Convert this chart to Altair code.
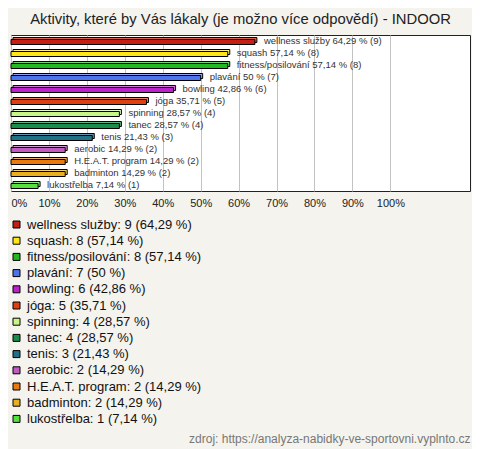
import altair as alt
import pandas as pd

categories = ["wellness služby", "squash", "fitness/posilování", "plavání", "bowling",
              "jóga", "spinning", "tanec", "tenis", "aerobic", "H.E.A.T. program",
              "badminton", "lukostřelba"]
counts = [9, 8, 8, 7, 6, 5, 4, 4, 3, 2, 2, 2, 1]
percents = [64.29, 57.14, 57.14, 50.0, 42.86, 35.71, 28.57, 28.57, 21.43, 14.29, 14.29, 14.29, 7.14]
pct_text = ["64,29", "57,14", "57,14", "50", "42,86", "35,71", "28,57", "28,57",
            "21,43", "14,29", "14,29", "14,29", "7,14"]
colors = ["#c41f12", "#ffe619", "#22b822", "#4d74ee", "#bb22cc", "#df4012", "#c8f587",
          "#1a8c4e", "#226f88", "#c05cc0", "#e87a10", "#e8b020", "#55e040"]
top_colors = ["#e0604f", "#fff07a", "#70d870", "#8ea6f4", "#d870e0", "#ee8060", "#e2fbc0",
              "#5cb884", "#5e9ab0", "#d896d8", "#f2ae64", "#f2d06a", "#96ee88"]
x_ticks = [0, 10, 20, 30, 40, 50, 60, 70, 80, 90, 100]

bar_labels = [f"{c} {p} % ({n})" for c, p, n in zip(categories, pct_text, counts)]
legend_labels = [f"{c}: {n} ({p} %)" for c, p, n in zip(categories, pct_text, counts)]

df = pd.DataFrame({
    "category": categories,
    "pct": percents,
    "bar_label": bar_labels,
    "legend_label": legend_labels,
    "top_label": legend_labels,
})

FONT = "Arial, Liberation Sans"

y = alt.Y("category:N", sort=categories, axis=None,
          scale=alt.Scale(paddingInner=0, paddingOuter=0))
x = alt.X("pct:Q",
          scale=alt.Scale(domain=[0, 121], nice=False, zero=True),
          axis=alt.Axis(values=x_ticks, labelExpr="datum.value + '%'", grid=True,
                        gridColor="#c3c3c3", gridWidth=1, domain=False, ticks=False,
                        labelPadding=6, labelFontSize=11, labelColor="#222",
                        labelFont=FONT, labelFlush=True,
                        title="zdroj: https://analyza-nabidky-ve-sportovni.vyplnto.cz",
                        titleX=459, titleY=247, titleAlign="right", titleBaseline="middle",
                        titleFontWeight="normal", titleFontSize=12, titleColor="#777",
                        titleFont=FONT))

back = alt.Chart(df).mark_bar(size=5, xOffset=2, x2Offset=2, yOffset=-1,
                              stroke="black", strokeWidth=1).encode(
    x=x, y=y,
    color=alt.Color("top_label:N", scale=alt.Scale(domain=legend_labels, range=top_colors),
                    legend=None),
)

front = alt.Chart(df).mark_bar(size=5, yOffset=1, stroke="black", strokeWidth=1).encode(
    x=x, y=y,
    color=alt.Color("legend_label:N", scale=alt.Scale(domain=legend_labels, range=colors),
                    legend=alt.Legend(orient="none", legendX=-1, legendY=183, title=None,
                                      symbolType="square", symbolSize=49,
                                      symbolStrokeColor="black", symbolStrokeWidth=1,
                                      symbolOpacity=1,
                                      labelFontSize=13, labelLimit=400, labelOffset=4,
                                      labelFont=FONT, labelColor="#111",
                                      rowPadding=2.2, padding=0)),
)

text = alt.Chart(df).mark_text(align="left", baseline="middle", dx=9, fontSize=9.5,
                               font=FONT, color="#333").encode(
    x=x, y=y, text="bar_label:N"
)

chart = alt.layer(back, front, text).resolve_scale(color="independent").properties(
    width=459, height=156,
    autosize=alt.AutoSizeParams(type="none"),
    padding={"left": 3, "top": 27, "right": 2, "bottom": 258},
    background="#f4f3ee",
    title=alt.Title("Aktivity, které by Vás lákaly (je možno více odpovědí) - INDOOR",
                    fontSize=14.8, fontWeight="normal", color="#222", font=FONT,
                    anchor="middle", offset=-7, baseline="bottom"),
).configure_view(stroke="#222", strokeWidth=1, fill="white")

chart.save("out.html", embed_options={"renderer": "svg", "actions": False})
